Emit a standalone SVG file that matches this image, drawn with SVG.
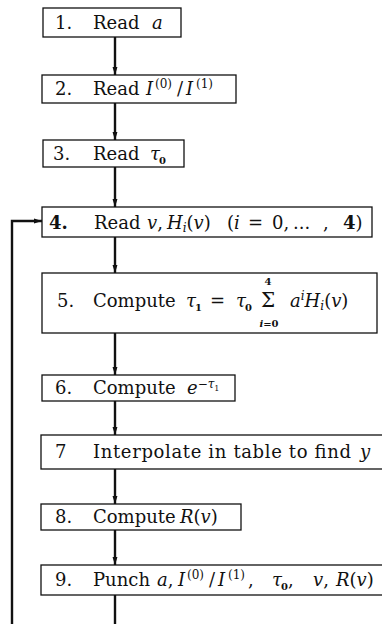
<svg xmlns="http://www.w3.org/2000/svg" width="382" height="624" viewBox="0 0 382 624">
<style>
.box{fill:#fff;stroke:#111;stroke-width:1.3}
.t{font-family:"DejaVu Serif","Liberation Serif",serif;font-size:18px;fill:#111}
.i{font-style:italic}
.b{font-weight:bold}
.s{font-size:12px}
.u{font-size:10px;font-weight:bold}
.c{stroke:#111;stroke-width:2.4;fill:none}
</style>
<defs>
<marker id="ah" markerWidth="8" markerHeight="13" refX="13" refY="4" viewBox="0 0 13 8" orient="auto" markerUnits="userSpaceOnUse">
<path d="M0,0 L13,4 L0,8 Z" fill="#111"/>
</marker>
</defs>
<g id="connectors">
<line class="c" x1="115" y1="37" x2="115" y2="75" marker-end="url(#ah)"/>
<line class="c" x1="115" y1="103" x2="115" y2="140" marker-end="url(#ah)"/>
<line class="c" x1="115" y1="167" x2="115" y2="207" marker-end="url(#ah)"/>
<line class="c" x1="115" y1="237" x2="115" y2="273" marker-end="url(#ah)"/>
<line class="c" x1="115" y1="333" x2="115" y2="375" marker-end="url(#ah)"/>
<line class="c" x1="115" y1="401" x2="115" y2="435" marker-end="url(#ah)"/>
<line class="c" x1="115" y1="469" x2="115" y2="504" marker-end="url(#ah)"/>
<line class="c" x1="115" y1="530" x2="115" y2="565" marker-end="url(#ah)"/>
<line class="c" x1="115" y1="595" x2="115" y2="624"/>
<polyline class="c" points="12,624 12,221 42,221" marker-end="url(#ah)"/>
</g>
<g id="n1"><rect class="box" x="43" y="8" width="138" height="29"/>
<text class="t" y="29"><tspan x="55">1.</tspan><tspan x="93">Read</tspan><tspan x="152" class="i">a</tspan></text></g>
<g id="n2"><rect class="box" x="42" y="75" width="194" height="28"/>
<text class="t" y="95"><tspan x="55">2.</tspan><tspan x="93">Read</tspan><tspan x="146" class="i">I</tspan><tspan x="155" class="s" dy="-7">(0)</tspan><tspan x="177" dy="7">/</tspan><tspan x="186" class="i">I</tspan><tspan x="196" class="s" dy="-7">(1)</tspan></text></g>
<g id="n3"><rect class="box" x="43" y="140" width="141" height="27"/>
<text class="t" y="160"><tspan x="53">3.</tspan><tspan x="93">Read</tspan><tspan x="150" class="i">τ</tspan><tspan x="159" class="u" dy="4">0</tspan></text></g>
<g id="n4"><rect class="box" x="42" y="207" width="330" height="30"/>
<text class="t" y="229"><tspan x="49" class="b">4.</tspan><tspan x="94">Read</tspan><tspan x="147" class="i">v</tspan><tspan>,</tspan><tspan x="167" class="i">H</tspan><tspan class="s i" dy="3">i</tspan><tspan dy="-3">(</tspan><tspan class="i">v</tspan><tspan>)</tspan><tspan x="227">(</tspan><tspan class="i">i</tspan><tspan x="248">=</tspan><tspan x="272">0,</tspan><tspan x="293">...</tspan><tspan x="323">,</tspan><tspan x="343" class="b">4</tspan><tspan>)</tspan></text></g>
<g id="n5"><rect class="box" x="42" y="273" width="335" height="60"/>
<text class="t" y="307"><tspan x="57">5.</tspan><tspan x="93">Compute</tspan><tspan x="186" class="i">τ</tspan><tspan x="195" class="u" dy="4">1</tspan><tspan x="210" dy="-4">=</tspan><tspan x="236" class="i">τ</tspan><tspan x="245" class="u" dy="4">0</tspan><tspan x="261" dy="-4" style="font-size:20px">Σ</tspan><tspan x="290" class="i">a</tspan><tspan class="s i" dy="-7">i</tspan><tspan class="i" dy="7">H</tspan><tspan class="s i" dy="3">i</tspan><tspan dy="-3">(</tspan><tspan class="i">v</tspan><tspan>)</tspan></text>
<text class="t u" x="268" y="285" text-anchor="middle">4</text>
<text class="t u" x="269" y="327" text-anchor="middle"><tspan class="i">i</tspan>=0</text></g>
<g id="n6"><rect class="box" x="42" y="375" width="193" height="26"/>
<text class="t" y="394"><tspan x="55">6.</tspan><tspan x="93">Compute</tspan><tspan x="187" class="i">e</tspan><tspan class="s" dy="-6">−</tspan><tspan class="s i">τ</tspan><tspan style="font-size:8px" dy="3">1</tspan></text></g>
<g id="n7"><rect class="box" x="41" y="435" width="350" height="34"/>
<text class="t" y="458"><tspan x="55">7</tspan><tspan x="93" textLength="258" lengthAdjust="spacing">Interpolate in table to find</tspan><tspan x="360" class="i">y</tspan></text></g>
<g id="n8"><rect class="box" x="41" y="504" width="200" height="26"/>
<text class="t" y="523"><tspan x="55">8.</tspan><tspan x="93">Compute</tspan><tspan x="180" class="i">R</tspan><tspan>(</tspan><tspan class="i">v</tspan><tspan>)</tspan></text></g>
<g id="n9"><rect class="box" x="41" y="565" width="350" height="30"/>
<text class="t" y="586"><tspan x="55">9.</tspan><tspan x="93">Punch</tspan><tspan x="157" class="i">a</tspan><tspan>,</tspan><tspan x="178" class="i">I</tspan><tspan x="187" class="s" dy="-7">(0)</tspan><tspan x="209" dy="7">/</tspan><tspan x="218" class="i">I</tspan><tspan x="228" class="s" dy="-7">(1)</tspan><tspan x="248" dy="7">,</tspan><tspan x="272" class="i">τ</tspan><tspan x="281" class="u" dy="4">0</tspan><tspan x="288" dy="-4">,</tspan><tspan x="313" class="i">v</tspan><tspan>,</tspan><tspan x="336" class="i">R</tspan><tspan>(</tspan><tspan class="i">v</tspan><tspan>)</tspan></text></g>
</svg>
